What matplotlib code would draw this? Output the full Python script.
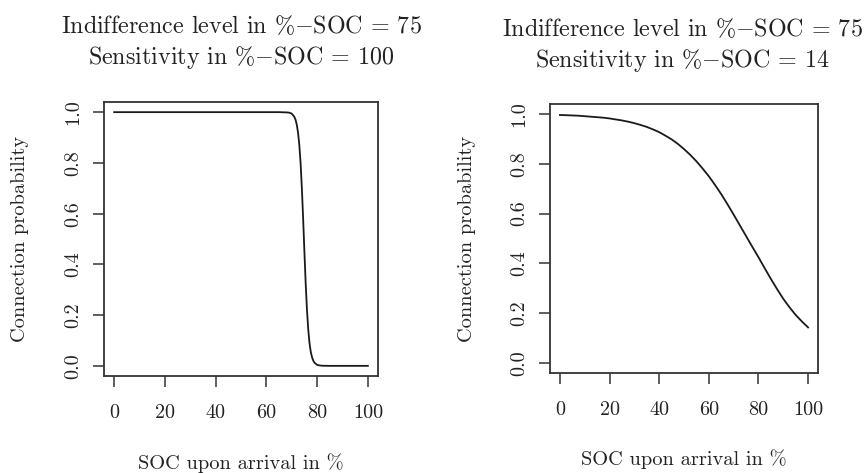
import matplotlib
matplotlib.use("Agg")
import matplotlib.pyplot as plt

plt.rcParams['font.family'] = ['cmr10', 'DejaVu Serif']
plt.rcParams['mathtext.fontset'] = 'cm'
plt.rcParams['axes.formatter.use_mathtext'] = True

# ---- data ----
soc_left = [0, 10, 20, 30, 40, 50, 60, 65, 68, 69, 70, 71, 71.5, 72, 72.5, 73, 73.5,
            74, 74.5, 75, 75.5, 76, 76.5, 77, 77.5, 78, 78.5, 79, 80, 81, 82, 85, 90, 100]
prob_left = [1, 1, 1, 1, 1, 1, 1, 1.0, 0.999, 0.998, 0.994, 0.982, 0.970, 0.950, 0.918,
             0.869, 0.797, 0.698, 0.578, 0.448, 0.324, 0.221, 0.144, 0.090, 0.055, 0.034,
             0.020, 0.012, 0.004, 0.0015, 0.0005, 0, 0, 0]

soc_right = [0, 2.5, 5, 7.5, 10, 12.5, 15, 17.5, 20, 22.5, 25, 27.5, 30, 32.5, 35, 37.5,
             40, 42.5, 45, 47.5, 50, 52.5, 55, 57.5, 60, 62.5, 65, 67.5, 70, 72.5, 75,
             77.5, 80, 82.5, 85, 87.5, 90, 92.5, 95, 97.5, 100]
prob_right = [0.996, 0.995, 0.994, 0.993, 0.991, 0.989, 0.987, 0.985, 0.982, 0.978, 0.974,
              0.969, 0.963, 0.956, 0.948, 0.938, 0.927, 0.913, 0.898, 0.880, 0.859, 0.836,
              0.810, 0.781, 0.750, 0.715, 0.678, 0.638, 0.596, 0.553, 0.510, 0.467, 0.425,
              0.381, 0.338, 0.297, 0.258, 0.224, 0.193, 0.167, 0.143]

titles = ["Indifference level in %$-$SOC = 75\nSensitivity in %$-$SOC = 100",
          "Indifference level in %$-$SOC = 75\nSensitivity in %$-$SOC = 14"]
xlabel = "SOC upon arrival in %"
ylabel = "Connection probability"
xticks = [0, 20, 40, 60, 80, 100]
yticks = [0.0, 0.2, 0.4, 0.6, 0.8, 1.0]
ytick_labels = ["0.0", "0.2", "0.4", "0.6", "0.8", "1.0"]

W, H = 867, 473
fig = plt.figure(figsize=(W / 100, H / 100), dpi=100)
fig.patch.set_facecolor('white')

boxes = [(104, 102, 378, 376), (550, 104, 818, 373)]  # left, top, right, bottom in px
series = [(soc_left, prob_left), (soc_right, prob_right)]
ylabel_x = [20, 467]
xlabel_y = [463, 459]
title_c = [43, 46]
title_x = [241, 682]

axis_col = '#333333'
text_col = '#222222'

for i, ((l, t, r, b), (xs, ys)) in enumerate(zip(boxes, series)):
    ax = fig.add_axes([l / W, 1 - b / H, (r - l) / W, (b - t) / H])
    ax.plot(xs, ys, color='#1a1a1a', lw=1.3)
    ax.set_xlim(-4, 104)
    ax.set_ylim(-0.04, 1.04)
    ax.set_xticks(xticks)
    ax.set_xticklabels([str(v) for v in xticks])
    ax.set_yticks(yticks)
    ax.set_yticklabels(ytick_labels, rotation=90, va='center')
    for s in ax.spines.values():
        s.set_color(axis_col)
        s.set_linewidth(1.3)
    ax.tick_params(axis='both', direction='out', length=8, width=1.1, color=axis_col,
                   labelsize=14.5, labelcolor=text_col)
    ax.tick_params(axis='x', pad=12)
    ax.tick_params(axis='y', pad=8)
    cx = (l + r) / 2 / W
    fig.text(title_x[i] / W, 1 - title_c[i] / H, titles[i], ha='center', va='center',
             fontsize=17.3, color=text_col, linespacing=1.3)
    fig.text(cx, 1 - xlabel_y[i] / H, xlabel, ha='center', va='center', fontsize=14.7,
             color=text_col)
    fig.text(ylabel_x[i] / W, 1 - (t + b) / 2 / H, ylabel, ha='center', va='center',
             rotation=90, fontsize=14.7, color=text_col)

fig.savefig('out.png', dpi=100, facecolor='white')
